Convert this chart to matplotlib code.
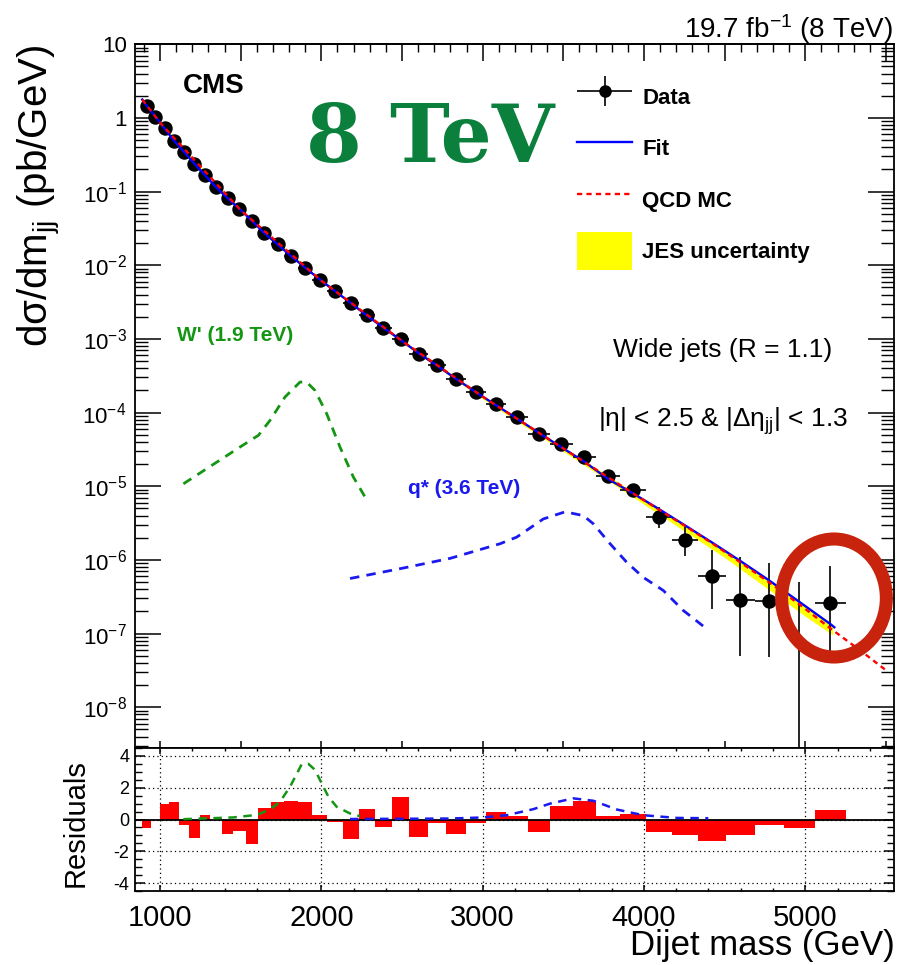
import numpy as np
import matplotlib
matplotlib.use("Agg")
import matplotlib.pyplot as plt
from matplotlib.ticker import MultipleLocator, FixedLocator, FuncFormatter, LogLocator, NullFormatter
from matplotlib.patches import Ellipse
from matplotlib.legend_handler import HandlerErrorbar

plt.rcParams['font.family'] = ['Liberation Sans', 'DejaVu Sans']
plt.rcParams['mathtext.fontset'] = 'custom'
plt.rcParams['mathtext.rm'] = 'Liberation Sans'
plt.rcParams['mathtext.it'] = 'Liberation Sans:italic'
plt.rcParams['mathtext.bf'] = 'Liberation Sans:bold'
plt.rcParams['axes.unicode_minus'] = False

# ---------------- data ----------------
bin_edges = [890, 944, 1000, 1058, 1118, 1181, 1246, 1313, 1383, 1455, 1530, 1607, 1687,
             1770, 1856, 1945, 2037, 2132, 2231, 2332, 2438, 2546, 2659, 2775, 2895, 3019,
             3147, 3279, 3416, 3558, 3704, 3854, 4010, 4171, 4337, 4509, 4686, 4869, 5058, 5253]

data_vals = [1.47, 1.04, 0.72, 0.49, 0.344, 0.236, 0.166, 0.114, 0.081, 0.0578, 0.0401,
             0.0275, 0.0194, 0.01343, 0.00933, 0.00641, 0.00445, 0.00303, 0.0021, 0.00141,
             0.00099, 6.3e-4, 4.4e-4, 2.83e-4, 1.9e-4, 1.3e-4, 8.7e-5, 5.07e-5, 3.8e-5,
             2.5e-5, 1.4e-5, 8.8e-6, 3.8e-6, 1.84e-6, 5.97e-7, 2.9e-7, 2.8e-7, 0.0, 2.6e-7]

err_lo = [0.0012, 0.001, 0.0008, 0.00064, 0.00052, 0.00043, 0.00035, 0.00029, 0.00024,
          0.0002, 0.00016, 0.00013, 0.00011, 8.9e-5, 7.3e-5, 6e-5, 4.9e-5, 3.9e-5, 3.3e-5,
          2.6e-5, 2.2e-5, 1.7e-5, 1.4e-5, 1.1e-5, 8.8e-6, 7.2e-6, 5.8e-6, 4.3e-6, 3.7e-6,
          2.95e-6, 2.1e-6, 1.65e-6, 1.1e-6, 0.7e-6, 3.8e-7, 2.4e-7, 2.32e-7, 0.0, 2.04e-7]
err_hi = [0.0012, 0.001, 0.0008, 0.00064, 0.00052, 0.00043, 0.00035, 0.00029, 0.00024,
          0.0002, 0.00016, 0.00013, 0.00011, 8.9e-5, 7.3e-5, 6e-5, 4.9e-5, 3.9e-5, 3.3e-5,
          2.6e-5, 2.2e-5, 1.7e-5, 1.4e-5, 1.1e-5, 8.8e-6, 7.2e-6, 5.8e-6, 4.3e-6, 3.7e-6,
          2.95e-6, 2.5e-6, 2.0e-6, 1.44e-6, 0.96e-6, 7.5e-7, 8.0e-7, 6.2e-7, 5.0e-7, 5.8e-7]

residuals = [-0.53, -0.05, 0.95, 1.1, -0.32, -1.14, 0.3, -0.05, -0.9, -0.74, -1.56, 0.74,
             1.07, 1.14, 1.1, 0.27, -0.15, -1.24, 0.63, -0.5, 1.39, -1.07, -0.23, -0.93,
             -0.25, 0.48, 0.23, -0.8, 0.88, 1.16, 0.19, 0.36, -0.8, -0.95, -1.37, -0.97,
             -0.34, -0.55, 0.57]

fit_mass = [890, 917, 972, 1029, 1088, 1150, 1214, 1280, 1348, 1419, 1493, 1569, 1647, 1729,
            1813, 1901, 1991, 2085, 2182, 2282, 2385, 2492, 2603, 2717, 2835, 2957, 3083,
            3213, 3348, 3487, 3631, 3779, 3932, 4090, 4254, 4423, 4597, 4777, 4963, 5155, 5180]
fit_vals = [1.78, 1.47, 1.04, 0.715, 0.487, 0.344, 0.238, 0.166, 0.1145, 0.0815, 0.058,
            0.0405, 0.0273, 0.0192, 0.0133, 0.00925, 0.0064, 0.00446, 0.00308, 0.00208,
            0.00142, 0.00097, 6.4e-4, 4.35e-4, 2.87e-4, 1.9e-4, 1.26e-4, 8.3e-5, 5.3e-5,
            3.4e-5, 2.15e-5, 1.25e-5, 8.0e-6, 4.95e-6, 2.95e-6, 1.72e-6, 9.7e-7, 5.25e-7,
            2.7e-7, 1.35e-7, 1.22e-7]

qcd_mass = [890, 1000, 1500, 2000, 2500, 3000, 3500, 4000, 4254, 4423, 4597, 4777, 4963,
            5155, 5350, 5507]
qcd_vals = [1.78, 0.865, 0.0561, 0.00618, 9.41e-4, 1.65e-4, 3.26e-5, 6.45e-6, 2.9e-6,
            1.68e-6, 9.3e-7, 4.95e-7, 2.5e-7, 1.18e-7, 5.7e-8, 3.1e-8]

jes_mass = [890, 1000, 1500, 2000, 2500, 3000, 3500, 4000, 4500, 4800, 5000, 5170]
jes_hi = [1.84, 0.89, 0.0578, 0.0064, 9.8e-4, 1.72e-4, 3.4e-5, 6.8e-6, 1.39e-6, 5.0e-7,
          2.45e-7, 1.35e-7]
jes_lo = [1.74, 0.845, 0.0545, 0.0059, 8.9e-4, 1.53e-4, 2.98e-5, 5.7e-6, 1.08e-6, 3.6e-7,
          1.72e-7, 0.96e-7]

wp_mass = [1145, 1330, 1496, 1610, 1682, 1775, 1868, 1909, 1961, 2033, 2116, 2199, 2277]
wp_vals = [1.08e-5, 1.98e-5, 3.41e-5, 4.92e-5, 7.85e-5, 1.63e-4, 2.6e-4, 2.6e-4, 2.0e-4,
           9.7e-5, 3.4e-5, 1.33e-5, 6.8e-6]

qs_mass = [2178, 2500, 2798, 3108, 3211, 3376, 3511, 3624, 3686, 3790, 3893, 3996, 4120,
           4244, 4389]
qs_vals = [5.6e-7, 7.7e-7, 1.05e-6, 1.66e-6, 2.04e-6, 3.6e-6, 4.5e-6, 4.0e-6, 3.1e-6,
           1.66e-6, 9.3e-7, 5.8e-7, 3.85e-7, 2.06e-7, 1.16e-7]

wp_res_mass = [1145, 1455, 1600, 1682, 1744, 1806, 1878, 1920, 1961, 1992, 2044, 2095, 2178, 2240]
wp_res_vals = [0.02, 0.13, 0.29, 0.63, 1.12, 2.06, 3.47, 3.5, 3.12, 2.48, 1.43, 0.8, 0.38, 0.21]

qs_res_mass = [2178, 2798, 3004, 3149, 3314, 3418, 3562, 3686, 3831, 3996, 4203, 4399]
qs_res_vals = [0.03, 0.06, 0.13, 0.27, 0.65, 1.0, 1.33, 1.18, 0.63, 0.27, 0.1, 0.08]

x_ticks = [1000, 2000, 3000, 4000, 5000]
res_yticks = [-4, -2, 0, 2, 4]

# ---------------- figure ----------------
W, H = 907, 965
fig = plt.figure(figsize=(W / 100, H / 100), dpi=100)
fx = lambda x: x / W
fy = lambda y: 1 - y / H

ax = fig.add_axes([fx(135), fy(748), (894 - 135) / W, (748 - 44.3) / H])
ax2 = fig.add_axes([fx(135), fy(891), (894 - 135) / W, (891 - 748) / H])

XMIN, XMAX = 845, 5550
YMIN, YMAX = 2.8e-9, 10

GREEN = '#149614'
BLUE_S = '#1a1aee'

edges = np.array(bin_edges, dtype=float)
centers = 0.5 * (edges[:-1] + edges[1:])
vals = np.array(data_vals)
elo = np.array(err_lo)
ehi = np.array(err_hi)
nz = vals > 0

# band
band = ax.fill_between(jes_mass, jes_lo, jes_hi, color='#ffff00', linewidth=0, zorder=2,
                       label='JES uncertainty')
# data
eb = ax.errorbar(centers[nz], vals[nz],
                 xerr=[centers[nz] - edges[:-1][nz], edges[1:][nz] - centers[nz]],
                 yerr=[elo[nz], ehi[nz]], fmt='o', color='black', ms=9.4,
                 elinewidth=1.2, capsize=0, zorder=3, label='Data')
ax.vlines(centers[~nz], YMIN, vals[~nz] + ehi[~nz], color='black', lw=1.2, zorder=3)
# fit + qcd
fit_line, = ax.plot(fit_mass, fit_vals, color='#0000ff', lw=1.7, zorder=4, label='Fit')
qcd_line, = ax.plot(qcd_mass, qcd_vals, color='#ff0000', lw=1.7, dashes=[2.2, 1.8],
                    zorder=5, label='QCD MC')
# signals
ax.plot(wp_mass, wp_vals, color=GREEN, lw=2.0, dashes=[3.4, 2.6], zorder=4)
ax.plot(qs_mass, qs_vals, color=BLUE_S, lw=2.0, dashes=[3.4, 2.6], zorder=4)

ax.set_yscale('log')
ax.set_xlim(XMIN, XMAX)
ax.set_ylim(YMIN, YMAX)

def yfmt(v, pos):
    e = int(round(np.log10(v)))
    if e == 1:
        return '10'
    if e == 0:
        return '1'
    return r'$\mathregular{10^{%d}}$' % e

ax.yaxis.set_major_locator(LogLocator(base=10, numticks=20))
ax.yaxis.set_minor_locator(LogLocator(base=10, subs=np.arange(2, 10), numticks=20))
ax.yaxis.set_major_formatter(FuncFormatter(yfmt))
ax.yaxis.set_minor_formatter(NullFormatter())
ax.tick_params(axis='y', which='major', direction='in', length=19, width=1.1,
               left=True, right=True, labelsize=16, pad=6)
ax.tick_params(axis='y', which='minor', direction='in', length=9.5, width=1.0,
               left=True, right=True)
ax.xaxis.set_major_locator(MultipleLocator(500))
ax.xaxis.set_minor_locator(MultipleLocator(100))
ax.tick_params(axis='x', which='major', direction='in', length=5, width=1.1,
               bottom=True, top=False, labelbottom=False)
ax.tick_params(axis='x', which='minor', bottom=False, top=False)
sec = ax.secondary_xaxis('top')
sec.xaxis.set_major_locator(MultipleLocator(500))
sec.xaxis.set_minor_locator(MultipleLocator(100))
sec.tick_params(axis='x', which='major', direction='in', length=12, width=1.1, labeltop=False)
sec.tick_params(axis='x', which='minor', direction='in', length=6, width=1.0)
for sp in list(ax.spines.values()) + list(sec.spines.values()):
    sp.set_linewidth(1.3)

# legend
leg = ax.legend([eb, fit_line, qcd_line, band], ['Data', 'Fit', 'QCD MC', 'JES uncertainty'],
                loc='upper left', bbox_to_anchor=(fx(577), fy(78)),
                bbox_transform=fig.transFigure, frameon=False, borderpad=0,
                borderaxespad=0, handlelength=2.48, handleheight=2.26, labelspacing=0.6,
                handletextpad=0.45, markerscale=0.85,
                prop={'family': ['Liberation Sans'], 'weight': 'bold', 'size': 16},
                handler_map={type(eb): HandlerErrorbar(xerr_size=1.24, yerr_size=0.68)})

# texts
fig.text(fx(893), fy(38), r'19.7 fb$^{\mathregular{-1}}$ (8 TeV)', ha='right',
         va='baseline', fontsize=20)
fig.text(fx(183), fy(93), 'CMS', ha='left', va='baseline', fontsize=20, fontweight='bold')
fig.text(fx(306), fy(162), '8 TeV', ha='left', va='baseline', fontsize=58,
         fontweight='bold', color='#0a803c', family=['DejaVu Serif'])
fig.text(fx(177), fy(341), "W' (1.9 TeV)", ha='left', va='baseline', fontsize=15,
         fontweight='bold', color=GREEN)
fig.text(fx(408), fy(494), "q* (3.6 TeV)", ha='left', va='baseline', fontsize=15,
         fontweight='bold', color=BLUE_S)
fig.text(fx(613), fy(357), 'Wide jets (R = 1.1)', ha='left', va='baseline', fontsize=19)
fig.text(fx(598), fy(427), r'|η| < 2.5 & |Δη$_{\mathregular{jj}}$| < 1.3', ha='left',
         va='baseline', fontsize=19)
fig.text(fx(40), fy(196), r'dσ/dm$_{\mathregular{jj}}$ (pb/GeV)', rotation=90,
         ha='center', va='center', fontsize=29)

# residual panel
ax2.set_axisbelow(True)
ax2.bar(edges[:-1], residuals, width=np.diff(edges), align='edge', color='#ff0000',
        linewidth=0, zorder=2)
ax2.axhline(0, color='black', lw=1.3, zorder=3)
ax2.plot(wp_res_mass, wp_res_vals, color=GREEN, lw=1.8, dashes=[3.4, 2.6], zorder=4)
ax2.plot(qs_res_mass, qs_res_vals, color=BLUE_S, lw=1.8, dashes=[3.4, 2.6], zorder=4)
ax2.set_xlim(XMIN, XMAX)
ax2.set_ylim(-4.5, 4.5)
ax2.xaxis.set_major_locator(FixedLocator(x_ticks))
ax2.xaxis.set_minor_locator(MultipleLocator(200))
ax2.yaxis.set_major_locator(FixedLocator(res_yticks))
ax2.yaxis.set_minor_locator(MultipleLocator(0.5))
ax2.grid(True, which='major', linestyle=(0, (1, 2.5)), color='black', lw=0.9)
ax2.tick_params(axis='x', which='major', direction='in', length=4.5, width=1.1,
                top=True, bottom=True, labelsize=21, pad=9)
ax2.tick_params(axis='x', which='minor', direction='in', length=2.5, width=1.0,
                top=True, bottom=True)
ax2.tick_params(axis='y', which='major', direction='in', length=7.5, width=1.1,
                left=True, right=True, labelsize=13, pad=4)
ax2.tick_params(axis='y', which='minor', direction='in', length=5, width=1.0,
                left=True, right=True)
for sp in ax2.spines.values():
    sp.set_linewidth(1.3)
fig.text(fx(76), fy(823), 'Residuals', rotation=90, ha='center', va='center', fontsize=21)
fig.text(fx(895), fy(955), 'Dijet mass (GeV)', ha='right', va='baseline', fontsize=25)

# highlight ellipse
ell = Ellipse((fx(834), fy(598)), 104.7 / W, 118 / H, transform=fig.transFigure,
              fill=False, edgecolor='#c8230c', lw=9.4, zorder=10)
fig.add_artist(ell)

fig.savefig('out.png', dpi=100, facecolor='white')
